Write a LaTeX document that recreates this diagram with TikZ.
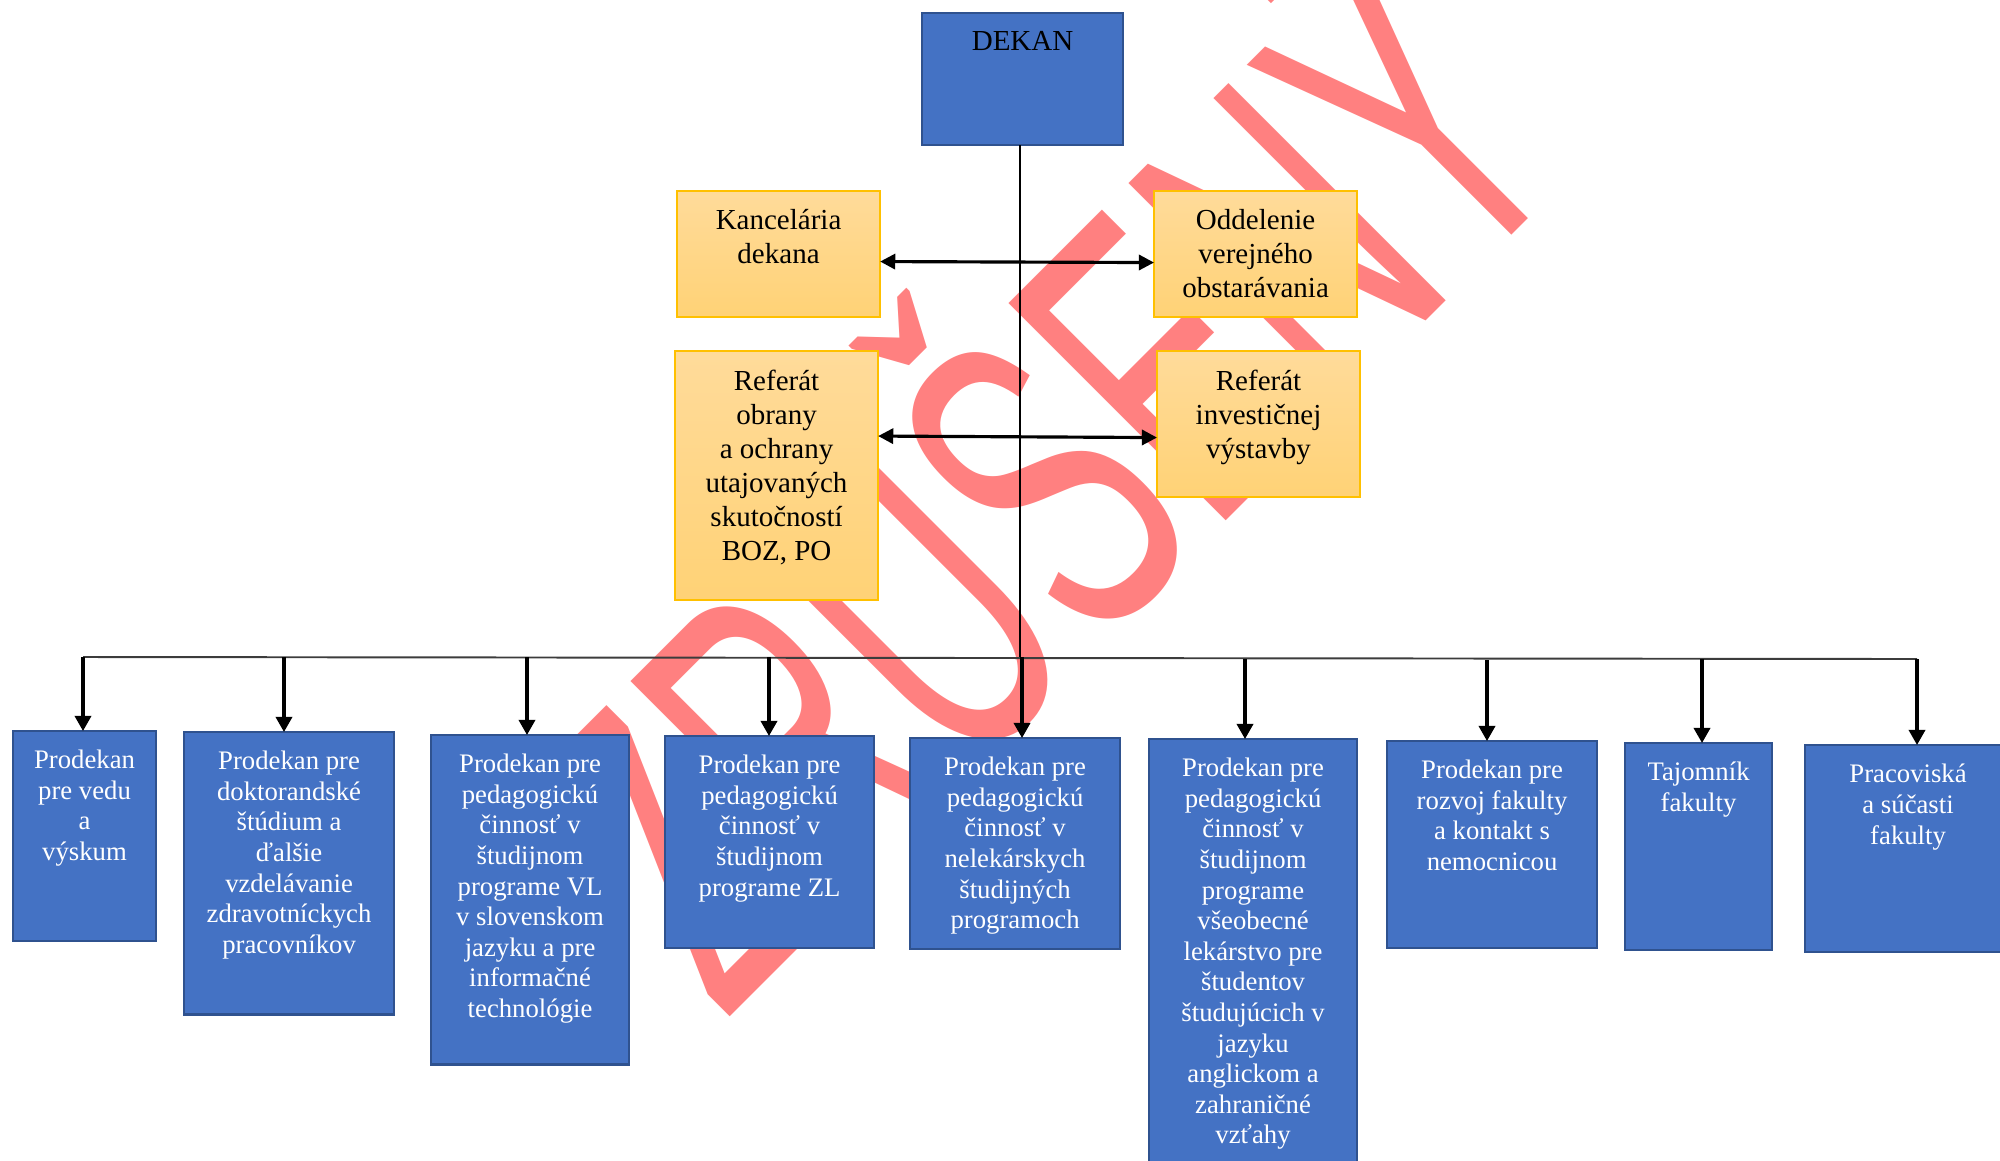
\documentclass[tikz,border=0pt]{standalone}
\usepackage{fontspec}
\setmainfont{Liberation Serif}
\newfontfamily\wmfont{Liberation Sans}
\usetikzlibrary{arrows.meta,calc}
\definecolor{bluef}{RGB}{68,114,196}
\definecolor{bluebd}{RGB}{47,82,143}
\definecolor{ybd}{RGB}{255,192,0}
\definecolor{ytop}{RGB}{255,219,154}
\definecolor{ybot}{RGB}{255,210,118}
\definecolor{wmcol}{RGB}{255,128,128}
\definecolor{buscol}{RGB}{60,60,60}
\begin{document}
\begin{tikzpicture}[x=0.01cm,y=-0.01cm,
  bbox/.style={rectangle,draw=bluebd,fill=bluef,line width=0.75pt,inner sep=0pt,outer sep=0pt,anchor=north west},
  ybox/.style={rectangle,draw=ybd,top color=ytop,bottom color=ybot,line width=0.55pt,inner sep=0pt,outer sep=0pt,anchor=north west},
  btext/.style={font=\fontsize{7.6pt}{8.7pt}\selectfont,text=white,align=center,inner sep=0pt,anchor=north},
  ytext/.style={font=\fontsize{8.25pt}{9.67pt}\selectfont,text=black,align=center,inner sep=0pt,anchor=north},
  arr/.style={line width=0.9pt,-{Triangle[length=4.3pt,width=4.6pt]}},
  dbl/.style={line width=0.9pt,{Triangle[length=4.3pt,width=4.3pt]}-{Triangle[length=4.3pt,width=4.3pt]}},
  busline/.style={line width=0.55pt,draw=buscol},
  thinline/.style={line width=0.45pt,draw=black}
]
\useasboundingbox (0,0) rectangle (2000,1160);
\clip (0,0) rectangle (2000,1160);

% watermark
\node[rotate=45,anchor=base west,inner sep=0pt,text=wmcol] (wm) at (724,1023)
  {\scalebox{0.567}[1]{\fontsize{127pt}{127pt}\wmfont ZRUŠENÝ}};

% top boxes
\node[bbox,minimum width=2.01cm,minimum height=1.32cm] (dekan) at (922,13) {};
\node[ytext,anchor=north] (dekanl) at ([yshift=-0.18cm]dekan.north) {DEKAN};

\node[ybox,minimum width=2.03cm,minimum height=1.26cm] (kanc) at (677,191) {};
\node[ytext] (kancl) at ([yshift=-0.18cm]kanc.north) {Kancelária\\dekana};
\node[ybox,minimum width=2.03cm,minimum height=1.26cm] (odd) at (1154,191) {};
\node[ytext] (oddl) at ([yshift=-0.18cm]odd.north) {Oddelenie\\verejného\\obstarávania};
\node[ybox,minimum width=2.03cm,minimum height=2.49cm] (refo) at (675,351) {};
\node[ytext] (refol) at ([yshift=-0.18cm]refo.north) {Referát\\obrany\\a ochrany\\utajovaných\\skutočností\\BOZ, PO};
\node[ybox,minimum width=2.03cm,minimum height=1.46cm] (refi) at (1157,351) {};
\node[ytext] (refil) at ([yshift=-0.18cm]refi.north) {Referát\\investičnej\\výstavby};

% double arrows
\draw[dbl] ([yshift=-0.075cm]kanc.east) -- ([yshift=-0.085cm]odd.east -| odd.west);
\draw[dbl] ([yshift=0.395cm]refo.east) -- ([yshift=-0.135cm]refi.west);

% bottom boxes
\node[bbox,minimum width=1.43cm,minimum height=2.10cm] (b1) at (13,731) {};
\node[btext] (l1) at ([yshift=-0.185cm]b1.north) {Prodekan\\pre vedu\\a\\výskum};
\node[bbox,minimum width=2.10cm,minimum height=2.82cm] (b2) at (184,732) {};
\node[btext] (l2) at ([yshift=-0.185cm]b2.north) {Prodekan pre\\doktorandské\\štúdium a\\ďalšie\\vzdelávanie\\zdravotníckych\\pracovníkov};
\node[bbox,minimum width=1.98cm,minimum height=3.29cm] (b3) at (431,735) {};
\node[btext] (l3) at ([yshift=-0.185cm]b3.north) {Prodekan pre\\pedagogickú\\činnosť v\\študijnom\\programe VL\\v slovenskom\\jazyku a pre\\informačné\\technológie};
\node[bbox,minimum width=2.09cm,minimum height=2.12cm] (b4) at (665,736) {};
\node[btext] (l4) at ([yshift=-0.185cm]b4.north) {Prodekan pre\\pedagogickú\\činnosť v\\študijnom\\programe ZL};
\node[bbox,minimum width=2.10cm,minimum height=2.11cm] (b5) at (910,738) {};
\node[btext] (l5) at ([yshift=-0.185cm]b5.north) {Prodekan pre\\pedagogickú\\činnosť v\\nelekárskych\\študijných\\programoch};
\node[bbox,minimum width=2.08cm,minimum height=4.61cm] (b6) at (1149,739) {};
\node[btext] (l6) at ([yshift=-0.185cm]b6.north) {Prodekan pre\\pedagogickú\\činnosť v\\študijnom\\programe\\všeobecné\\lekárstvo pre\\študentov\\študujúcich v\\jazyku\\anglickom a\\zahraničné\\vzťahy};
\node[bbox,minimum width=2.10cm,minimum height=2.07cm] (b7) at (1387,741) {};
\node[btext] (l7) at ([yshift=-0.185cm]b7.north) {Prodekan pre\\rozvoj fakulty\\a kontakt s\\nemocnicou};
\node[bbox,minimum width=1.47cm,minimum height=2.07cm] (b8) at (1625,743) {};
\node[btext] (l8) at ([yshift=-0.185cm]b8.north) {Tajomník\\fakulty};
\node[bbox,minimum width=2.06cm,minimum height=2.07cm] (b9) at (1805,745) {};
\node[btext] (l9) at ([yshift=-0.185cm]b9.north) {Pracoviská\\a súčasti\\fakulty};

% bus and connectors
\coordinate (a1) at (83,657);
\coordinate (a2) at (284,657);
\coordinate (a3) at (527,657);
\coordinate (a4) at (769,657);
\coordinate (a5) at (1022,657);
\coordinate (a6) at (1245,659);
\coordinate (a7) at (1487,660);
\coordinate (a8) at (1702,659);
\coordinate (a9) at (1917,659);
\coordinate (bd) at (1020,657);

\draw[busline] (a1) -- (a9);
\draw[thinline] (dekan.south -| bd) -- (bd);
\foreach \i in {1,...,9} {
  \draw[arr] (a\i) -- (a\i |- b\i.north);
}
\end{tikzpicture}
\end{document}
